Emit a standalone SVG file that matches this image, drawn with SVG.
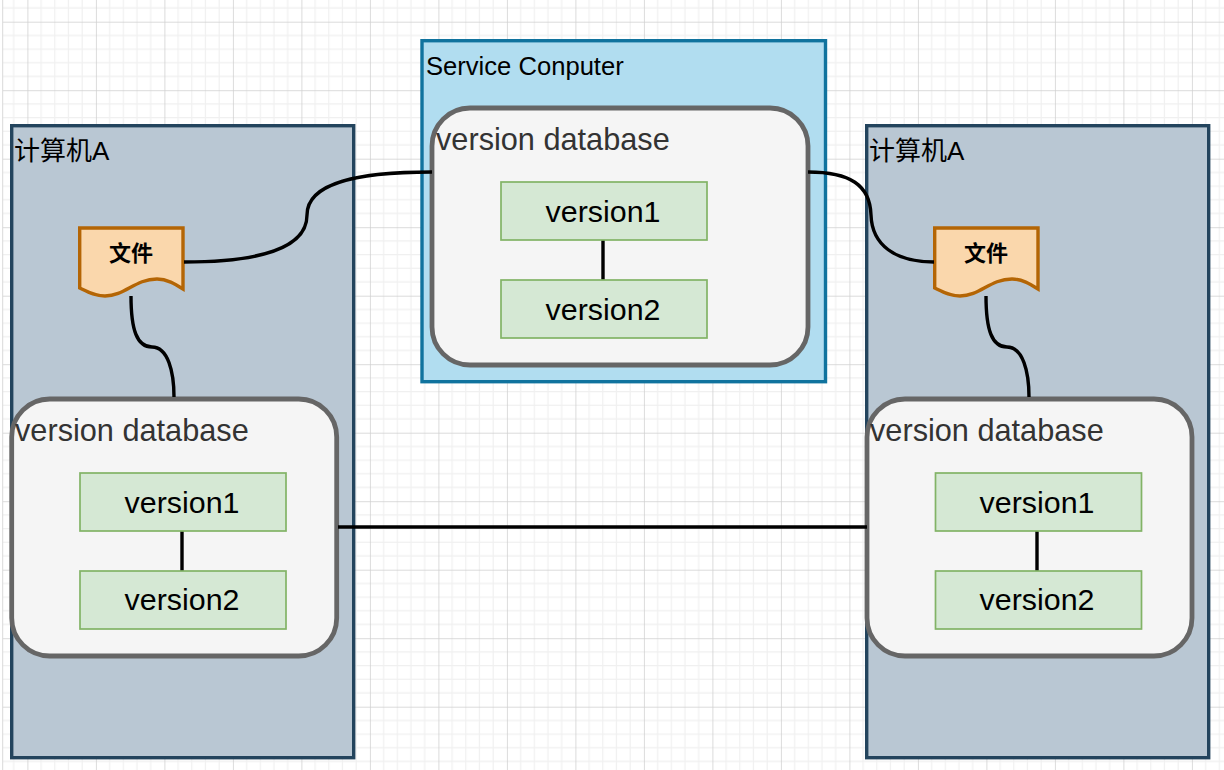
<svg xmlns="http://www.w3.org/2000/svg" width="1224" height="770" viewBox="0 0 1224 770">
<style>
text{font-family:"Liberation Sans","Noto Sans CJK SC",sans-serif;fill:#000}
.host{fill:#b9c7d3;stroke:#23445d;stroke-width:3.4}
.db{fill:#f5f5f5;stroke:#666;stroke-width:4.8}
.dbt{font-size:30.700px;fill:#333}
.ver{fill:#d5e8d4;stroke:#82b366;stroke-width:1.7}
.vt{font-size:30.400px;text-anchor:middle}
.ht{font-size:26px}
.sv{font-size:25.600px}
.doc{fill:#fad7ac;stroke:#b46504;stroke-width:3.4}
.dt{font-size:22px;font-weight:bold;text-anchor:middle}
.c{fill:none;stroke:#000;stroke-width:3.4}
</style>
<defs>
<pattern id="g" x="27.4" y="21.7" width="68.5" height="68.5" patternUnits="userSpaceOnUse">
<path d="M13.7 0V68.5M27.4 0V68.5M41.1 0V68.5M54.8 0V68.5M0 13.7H68.5M0 27.4H68.5M0 41.1H68.5M0 54.8H68.5" stroke="#f0f0f0" stroke-width="1.200" fill="none"/>
<path d="M0 0V68.5M0 0H68.5" stroke="#cfcfcf" stroke-width="1.500" fill="none"/>
</pattern>
</defs>
<rect width="1224" height="770" fill="#fff"/>
<rect x="2.7" y="0" width="1222" height="770" fill="url(#g)"/>
<path d="M2.7 0V770" stroke="#d9d9d9" stroke-width="1"/>
<g id="hostL"><rect class="host" x="11.7" y="125.7" width="342" height="632"/><text class="ht" x="14" y="160">计算机A</text></g>
<g id="hostR"><rect class="host" x="866.7" y="125.7" width="342" height="632"/><text class="ht" x="869" y="160">计算机A</text></g>
<g id="server"><rect x="422" y="40.7" width="403.5" height="341" fill="#b1ddf0" stroke="#10739e" stroke-width="3.4"/><text class="sv" x="426" y="75">Service Conputer</text></g>
<g id="docL"><path class="doc" d="M79.700 228H183V289C175 284 167 279 157 279C135 279 125 296 105 296C95 296 88 292 79.700 288Z"/><text class="dt" x="131" y="261">文件</text></g>
<g id="docR"><path class="doc" d="M934.700 228H1038V289C1030 284 1022 279 1012 279C990 279 980 296 960 296C950 296 943 292 934.700 288Z"/><text class="dt" x="986" y="261">文件</text></g>
<g id="dbS"><rect class="db" x="432" y="108" width="376" height="257" rx="38"/><text class="dbt" x="436" y="149.500">version database</text></g>
<g id="dbL"><rect class="db" x="11.700" y="399" width="325" height="257" rx="38"/><text class="dbt" x="15" y="440.500">version database</text></g>
<g id="dbR"><rect class="db" x="867" y="399" width="325" height="257" rx="38"/><text class="dbt" x="870" y="440.500">version database</text></g>
<g id="connectors">
<path class="c" d="M184 262C260 262 307 248 307 215C307 182 360 172 432 172"/>
<path class="c" d="M131 296C131 330 137 347 152 347C168 347 174 372 174 397"/>
<path class="c" d="M808 172C850 172 870 185 871 215C872 245 895 262 934 262"/>
<path class="c" d="M986 296C986 330 992 347 1007 347C1023 347 1029 372 1029 397"/>
<path class="c" d="M338 527H867"/>
<path class="c" d="M603 240V280M182 531V571M1037 531V571"/>
</g>
<g id="s1"><rect class="ver" x="501" y="182" width="206" height="58"/><text class="vt" x="603" y="222">version1</text></g>
<g id="s2"><rect class="ver" x="501" y="280" width="206" height="58"/><text class="vt" x="603" y="320">version2</text></g>
<g id="l1"><rect class="ver" x="80" y="473" width="206" height="58"/><text class="vt" x="182" y="513">version1</text></g>
<g id="l2"><rect class="ver" x="80" y="571" width="206" height="58"/><text class="vt" x="182" y="610">version2</text></g>
<g id="r1"><rect class="ver" x="935.500" y="473" width="206" height="58"/><text class="vt" x="1037" y="513">version1</text></g>
<g id="r2"><rect class="ver" x="935.500" y="571" width="206" height="58"/><text class="vt" x="1037" y="610">version2</text></g>
</svg>
